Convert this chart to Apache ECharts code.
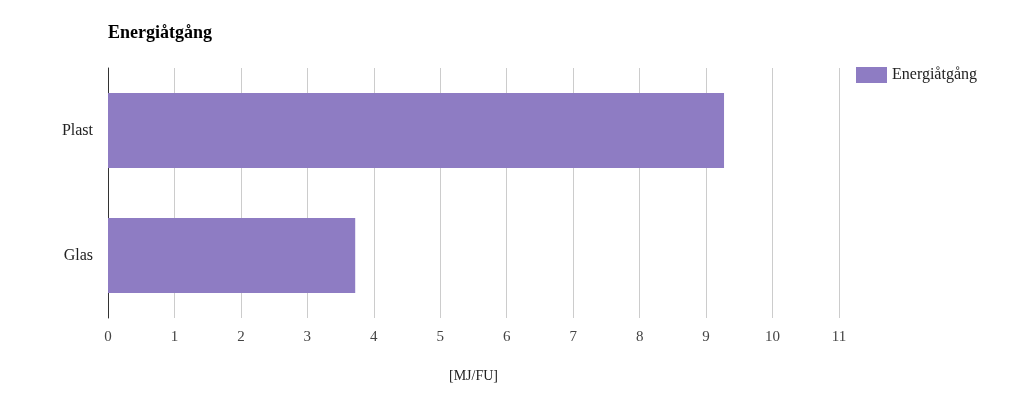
<!DOCTYPE html>
<html>
<head>
<meta charset="utf-8">
<script src="https://cdn.jsdelivr.net/npm/echarts@6/dist/echarts.min.js"></script>
<style>
  html, body { margin: 0; padding: 0; background: #fff; }
  #chart { width: 1021px; height: 400px; }
</style>
</head>
<body>
<div id="chart"></div>
<script>
// data
const categories = ['Plast', 'Glas'];
const energy = [9.27, 3.72];
const seriesName = 'Energiåtgång';
const xMin = 0;
const xMax = 11;
const xStep = 1;

const font = '"Liberation Serif", "DejaVu Serif", serif';

const chart = echarts.init(document.getElementById('chart'));
chart.setOption({
    animation: false,
    textStyle: { fontFamily: font },
    title: {
        text: 'Energiåtgång',
        left: 103,
        top: 19,
        textStyle: { fontFamily: font, fontSize: 18, fontWeight: 'bold', color: '#000' }
    },
    legend: {
        data: [seriesName],
        left: 851,
        top: 62,
        itemWidth: 31,
        itemHeight: 16,
        itemGap: 6,
        icon: 'rect',
        textStyle: { fontFamily: font, fontSize: 16, color: '#222' }
    },
    grid: { left: 108, right: 182, top: 68, bottom: 82 },
    xAxis: {
        type: 'value',
        min: xMin,
        max: xMax,
        interval: xStep,
        name: '[MJ/FU]',
        nameLocation: 'middle',
        nameGap: 51,
        nameTextStyle: { fontFamily: font, fontSize: 14, color: '#222' },
        axisLine: { show: false },
        axisTick: { show: false },
        axisLabel: { fontFamily: font, fontSize: 15, color: '#444', margin: 12 },
        splitLine: { show: true, lineStyle: { color: '#cccccc', width: 1 } }
    },
    yAxis: {
        type: 'category',
        data: categories,
        inverse: true,
        axisLine: { show: true, lineStyle: { color: '#333', width: 1 } },
        axisTick: { show: false },
        axisLabel: { fontFamily: font, fontSize: 16, color: '#222', margin: 15 }
    },
    series: [{
        name: seriesName,
        type: 'bar',
        data: energy,
        barCategoryGap: '40%',
        itemStyle: { color: '#8e7cc3' }
    }]
});
</script>
</body>
</html>
